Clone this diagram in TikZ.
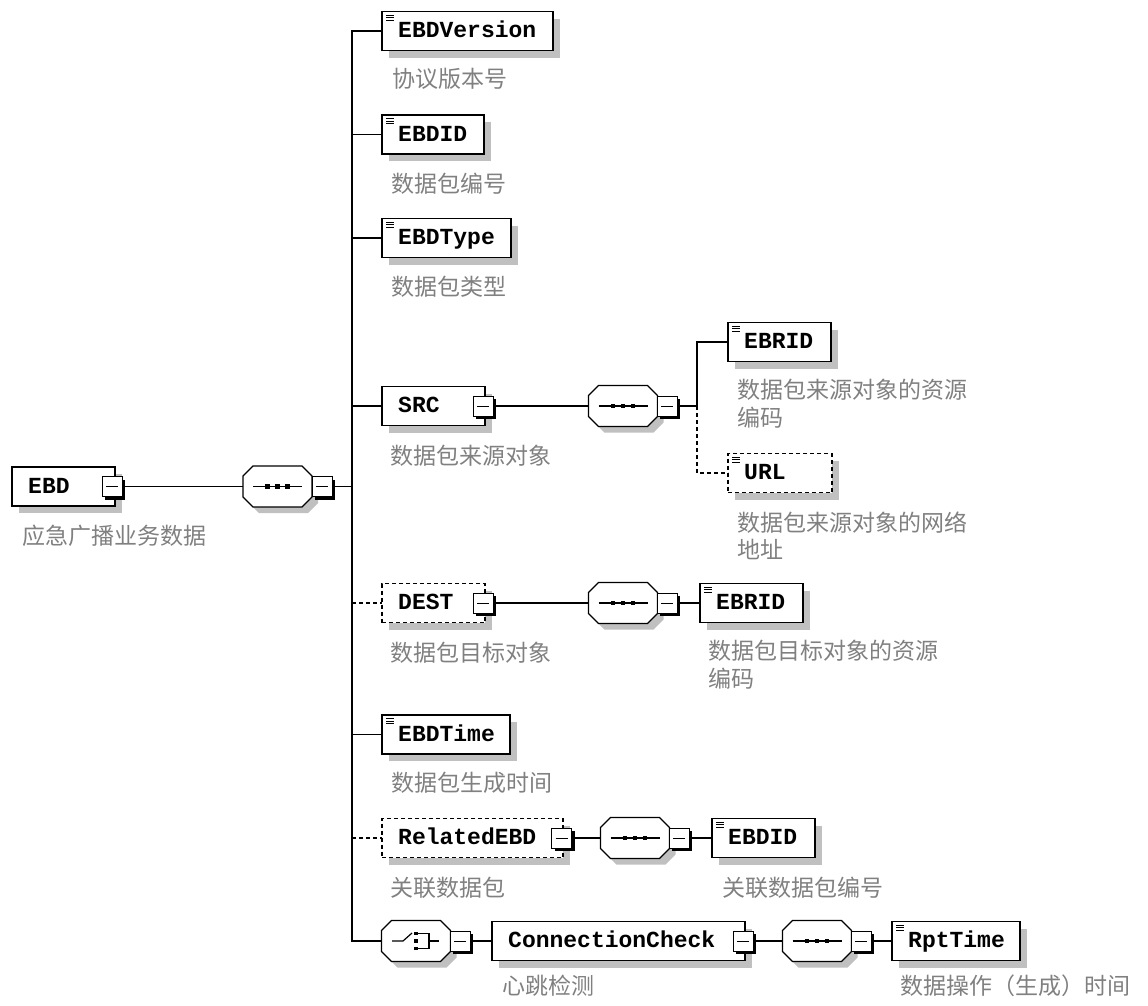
\documentclass[tikz,border=0pt]{standalone}
\usepackage{fontspec}
\newfontfamily\cjk{Noto Sans CJK SC}
\newfontfamily\elfont{Liberation Mono}
\usetikzlibrary{shadows}
\definecolor{shadowc}{RGB}{192,192,192}
\definecolor{labelc}{RGB}{128,128,128}
\tikzset{
 elbox/.style={draw, fill=white, line width=1.3pt, minimum height=39pt, inner sep=0pt, outer sep=0pt,
   drop shadow={shadow xshift=7pt, shadow yshift=-7pt, fill=shadowc, opacity=1}},
 optbox/.style={dash pattern=on 4pt off 3pt},
 eltext/.style={font=\elfont\bfseries\fontsize{23}{27}\selectfont, inner sep=0pt},
 lbl/.style={font=\cjk\fontsize{23}{27.5}\selectfont, text=labelc, inner sep=0pt, anchor=west, align=left},
 octnode/.style={rectangle, minimum width=69pt, minimum height=41pt, inner sep=0pt, outer sep=0pt},
 octline/.style={draw, fill=white, line width=1.2pt, line join=miter},
 minusbox/.style={draw, fill=white, line width=1pt, minimum size=20pt, inner sep=0pt, outer sep=0pt,
   drop shadow={shadow xshift=3pt, shadow yshift=-3pt, fill=black, opacity=1},
   path picture={\draw[line width=1pt] ([xshift=4pt]path picture bounding box.west) -- ([xshift=-4pt]path picture bounding box.east);}},
 conn/.style={line width=1.3pt},
 optconn/.style={line width=1.3pt, dash pattern=on 4pt off 3pt},
}
% element box: name, x1, x2, yc, text, extra style
\newcommand\xsdel[6]{%
  \node[elbox,#6,minimum width={#3-#2},anchor=west] (#1) at (#2,#4) {};
  \node[eltext,anchor=base west] (#1-t) at ([xshift=16pt,yshift=-6.5pt]#1.west) {#5};}
% leaf icon
\newcommand\xsdleaf[1]{%
  \foreach \dy in {3.5,6,8.5} {\draw[line width=0.8pt] ([xshift=4pt,yshift=-\dy pt]#1.north west) -- ++(8,0);}}
% octagon compositor: name, xc, yc
\newcommand\xsdoct[3]{%
  \fill[shadowc] (#2-24.5+6,#3-20.5+6) -- (#2+24.5+6,#3-20.5+6) -- (#2+34.5+6,#3-10.5+6) -- (#2+34.5+6,#3+10.5+6)
     -- (#2+24.5+6,#3+20.5+6) -- (#2-24.5+6,#3+20.5+6) -- (#2-34.5+6,#3+10.5+6) -- (#2-34.5+6,#3-10.5+6) -- cycle;
  \node[octnode] (#1) at (#2,#3) {};
  \path[octline] (#2-24.5,#3-20.5) -- (#2+24.5,#3-20.5) -- (#2+34.5,#3-10.5) -- (#2+34.5,#3+10.5)
     -- (#2+24.5,#3+20.5) -- (#2-24.5,#3+20.5) -- (#2-34.5,#3+10.5) -- (#2-34.5,#3-10.5) -- cycle;}
% sequence icon at xc, yc
\newcommand\xsdseqicon[2]{%
  \draw[line width=1.2pt] (#1-24.5,#2) -- (#1+24.5,#2);
  \foreach \dx in {-10,0,10} {\fill (#1+\dx-2.3,#2-2.3) rectangle (#1+\dx+2.3,#2+2.3);}}
\begin{document}
\begin{tikzpicture}[x=1pt,y=-1pt]
\useasboundingbox (0,0) rectangle (1148,1005);

% ---------- root ----------
\xsdel{ebd}{12}{115}{486.5}{EBD}{}
\node[minusbox] (ebd-m) at (112,486.5) {};
\xsdoct{seq1}{277.5}{486.5}
\xsdseqicon{277.5}{486.5}
\node[minusbox] (seq1-m) at (322,486.5) {};

% ---------- children of root ----------
\xsdel{ver}{382}{553}{31}{EBDVersion}{}
\xsdleaf{ver}
\xsdel{eid}{382}{484}{134.5}{EBDID}{}
\xsdleaf{eid}
\xsdel{typ}{382}{511}{238}{EBDType}{}
\xsdleaf{typ}

\xsdel{src}{382}{485}{406}{SRC}{}
\node[minusbox] (src-m) at (483,406) {};
\xsdoct{seqsrc}{623}{406}
\xsdseqicon{623}{406}
\node[minusbox] (seqsrc-m) at (667,406) {};
\xsdel{ebrid1}{728}{831}{342}{EBRID}{}
\xsdleaf{ebrid1}
\xsdel{url}{728}{832}{473}{URL}{optbox}
\xsdleaf{url}

\xsdel{dest}{382}{485}{603}{DEST}{optbox}
\node[minusbox] (dest-m) at (483,603) {};
\xsdoct{seqdest}{623}{603}
\xsdseqicon{623}{603}
\node[minusbox] (seqdest-m) at (667,603) {};
\xsdel{ebrid2}{700}{803}{603}{EBRID}{}
\xsdleaf{ebrid2}

\xsdel{tim}{382}{510}{734.5}{EBDTime}{}
\xsdleaf{tim}

\xsdel{rel}{382}{563}{838}{RelatedEBD}{optbox}
\node[minusbox] (rel-m) at (561.5,838) {};
\xsdoct{seqrel}{635}{838}
\xsdseqicon{635}{838}
\node[minusbox] (seqrel-m) at (679,838) {};
\xsdel{eid2}{712}{815}{838}{EBDID}{}
\xsdleaf{eid2}

% choice
\xsdoct{cho}{416}{941}
\draw[line width=1.2pt] (392,941) -- (403,941) -- (412,933);
\foreach \dy in {-7.5,0,7.5} {\fill (414,941+\dy-1.8) rectangle (418,941+\dy+1.8);}
\draw[line width=1.2pt] (418,933.5) -- (429,933.5) -- (429,948.5) -- (418,948.5);
\draw[line width=1.2pt] (429,941) -- (439,941);
\node[minusbox] (cho-m) at (460,941) {};
\xsdel{cc}{492}{745}{941}{ConnectionCheck}{}
\node[minusbox] (cc-m) at (743,941) {};
\xsdoct{seqcc}{817}{941}
\xsdseqicon{817}{941}
\node[minusbox] (seqcc-m) at (861,941) {};
\xsdel{rpt}{892}{1020}{941}{RptTime}{}
\xsdleaf{rpt}

% ---------- spine coordinates ----------
\coordinate (sp-ver) at (352,31);
\coordinate (sp-eid) at (352,134.5);
\coordinate (sp-typ) at (352,238);
\coordinate (sp-src) at (352,406);
\coordinate (sp-root) at (352,486.5);
\coordinate (sp-dest) at (352,603);
\coordinate (sp-tim) at (352,734.5);
\coordinate (sp-rel) at (352,838);
\coordinate (sp-cho) at (352,941);
\coordinate (ss-top) at (697,342);
\coordinate (ss-mid) at (697,406);
\coordinate (ss-url) at (697,473);

% ---------- connectors ----------
\draw[conn] (ebd-m.east) -- (seq1.west);
\draw[conn] (seq1-m.east) -- (sp-root);
\draw[line width=1.5pt] (ver.west) -- (sp-ver) -- (sp-cho) -- (cho.west);
\draw[conn] (sp-eid) -- (eid.west);
\draw[conn] (sp-typ) -- (typ.west);
\draw[conn] (sp-src) -- (src.west);
\draw[optconn] (sp-dest) -- (dest.west);
\draw[conn] (sp-tim) -- (tim.west);
\draw[optconn] (sp-rel) -- (rel.west);

\draw[conn] (src-m.east) -- (seqsrc.west);
\draw[conn] (seqsrc-m.east) -- (ss-mid);
\draw[conn] (ebrid1.west) -- (ss-top) -- (ss-mid);
\draw[optconn] (ss-mid) -- (ss-url) -- (url.west);

\draw[conn] (dest-m.east) -- (seqdest.west);
\draw[conn] (seqdest-m.east) -- (ebrid2.west);
\draw[conn] (rel-m.east) -- (seqrel.west);
\draw[conn] (seqrel-m.east) -- (eid2.west);
\draw[conn] (cho-m.east) -- (cc.west);
\draw[conn] (cc-m.east) -- (seqcc.west);
\draw[conn] (seqcc-m.east) -- (rpt.west);

% ---------- labels ----------
\node[lbl] (l-ebd) at (22,535.5) {应急广播业务数据};
\node[lbl] (l-ver) at (392,79) {协议版本号};
\node[lbl] (l-eid) at (391,184) {数据包编号};
\node[lbl] (l-typ) at (391,287) {数据包类型};
\node[lbl] (l-src) at (390,456) {数据包来源对象};
\node[lbl] (l-ebrid1) at (737,403.5) {数据包来源对象的资源\\编码};
\node[lbl] (l-url) at (737,536) {数据包来源对象的网络\\地址};
\node[lbl] (l-dest) at (390,653) {数据包目标对象};
\node[lbl] (l-ebrid2) at (708,664.5) {数据包目标对象的资源\\编码};
\node[lbl] (l-tim) at (391,783) {数据包生成时间};
\node[lbl] (l-rel) at (390,888) {关联数据包};
\node[lbl] (l-eid2) at (722,888) {关联数据包编号};
\node[lbl] (l-cc) at (502,986) {心跳检测};
\node[lbl] (l-rpt) at (900,986) {数据操作（生成）时间};
\end{tikzpicture}
\end{document}
